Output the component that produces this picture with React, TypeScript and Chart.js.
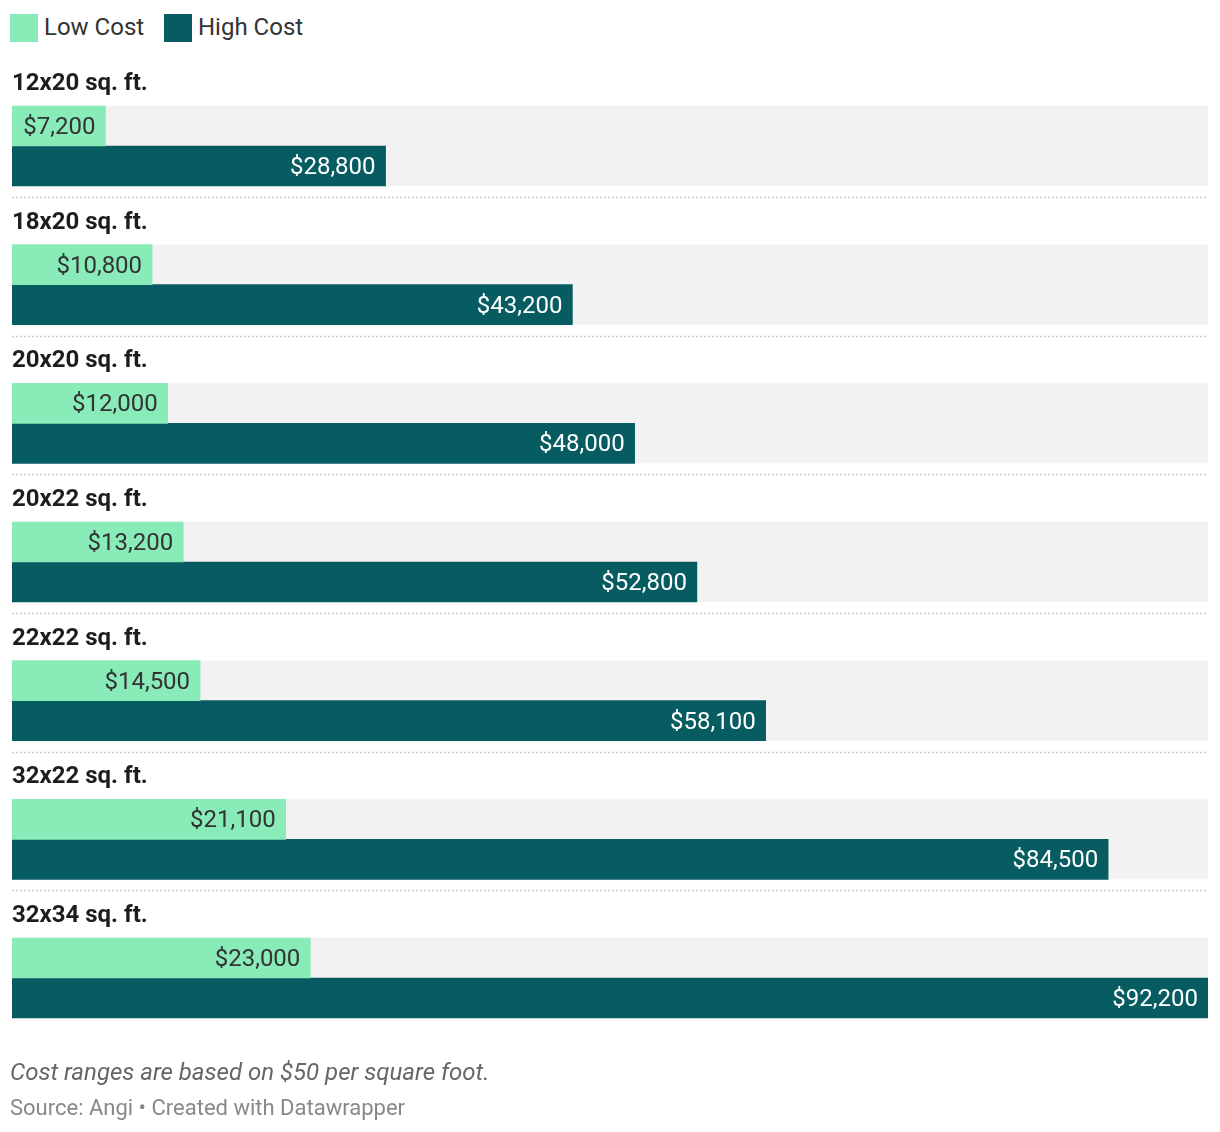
import React, { useEffect, useRef } from "react";
import { Chart, registerables } from "chart.js";

Chart.register(...registerables);

const categories = [
  "12x20 sq. ft.",
  "18x20 sq. ft.",
  "20x20 sq. ft.",
  "20x22 sq. ft.",
  "22x22 sq. ft.",
  "32x22 sq. ft.",
  "32x34 sq. ft.",
];
const lowCost = [7200, 10800, 12000, 13200, 14500, 21100, 23000];
const highCost = [28800, 43200, 48000, 52800, 58100, 84500, 92200];
const seriesNames = ["Low Cost", "High Cost"];
const seriesColors = ["#88ebb8", "#075c62"];
const labelColors = ["#333333", "#ffffff"];
const xMax = 92200;

const FONT = "Roboto, 'Noto Sans', sans-serif";

const fmt = (v: number) => "$" + v.toLocaleString("en-US");

const customPlugin = {
  id: "splitBars",
  beforeDatasetsDraw(chart: any) {
    const { ctx, chartArea } = chart;
    const m0 = chart.getDatasetMeta(0);
    const m1 = chart.getDatasetMeta(1);
    ctx.save();
    categories.forEach((_, i) => {
      const b0 = m0.data[i];
      const b1 = m1.data[i];
      const top = b0.y - b0.height / 2;
      const bottom = b1.y + b1.height / 2;
      ctx.fillStyle = "#f2f2f2";
      ctx.fillRect(chartArea.left, top, chartArea.right - chartArea.left, bottom - top);
    });
    ctx.restore();
  },
  afterDatasetsDraw(chart: any) {
    const { ctx, chartArea } = chart;
    const m0 = chart.getDatasetMeta(0);
    const m1 = chart.getDatasetMeta(1);
    ctx.save();
    categories.forEach((name, i) => {
      const b0 = m0.data[i];
      const b1 = m1.data[i];
      const top = b0.y - b0.height / 2;
      const bottom = b1.y + b1.height / 2;
      // group label
      ctx.fillStyle = "#1d1d1d";
      ctx.font = `bold 24px ${FONT}`;
      ctx.textAlign = "left";
      ctx.textBaseline = "middle";
      ctx.fillText(name, chartArea.left, top - 22);
      // separators
      if (i < categories.length - 1) {
        ctx.strokeStyle = "#cccccc";
        ctx.lineWidth = 1.5;
        ctx.setLineDash([2, 2]);
        ctx.beginPath();
        ctx.moveTo(chartArea.left, Math.round(bottom + 11) + 0.5);
        ctx.lineTo(chartArea.right, Math.round(bottom + 11) + 0.5);
        ctx.stroke();
        ctx.setLineDash([]);
      }
      // value labels
      [b0, b1].forEach((b: any, d: number) => {
        const v = d === 0 ? lowCost[i] : highCost[i];
        ctx.fillStyle = labelColors[d];
        ctx.font = `24px ${FONT}`;
        ctx.textAlign = "right";
        ctx.textBaseline = "middle";
        ctx.fillText(fmt(v), b.x - 10, b.y + 2);
      });
    });
    ctx.restore();
  },
};

export default function App() {
  const ref = useRef<HTMLCanvasElement | null>(null);
  useEffect(() => {
    if (!ref.current) return;
    const chart = new Chart(ref.current, {
      type: "bar",
      data: {
        labels: categories,
        datasets: [
          {
            label: seriesNames[0],
            data: lowCost,
            backgroundColor: seriesColors[0],
            barThickness: 40,
            borderWidth: 0,
          },
          {
            label: seriesNames[1],
            data: highCost,
            backgroundColor: seriesColors[1],
            barThickness: 40,
            borderWidth: 0,
          },
        ],
      },
      options: {
        indexAxis: "y",
        animation: false,
        responsive: false,
        maintainAspectRatio: false,
        layout: { padding: { left: 12, right: 12, top: 76.67, bottom: 12.67 } },
        plugins: { legend: { display: false }, tooltip: { enabled: false } },
        scales: {
          x: { display: false, min: 0, max: xMax },
          y: { display: false, offset: true, grid: { display: false } },
        },
      },
      plugins: [customPlugin],
    });
    return () => chart.destroy();
  }, []);

  const legendText: React.CSSProperties = {
    position: "absolute",
    top: 27,
    transform: "translateY(-50%)",
    fontFamily: FONT,
    fontSize: 24,
    color: "#333333",
    whiteSpace: "nowrap",
    lineHeight: 1,
  };

  return (
    <div
      style={{
        position: "absolute",
        left: 0,
        top: 0,
        width: 1220,
        height: 1132,
        background: "#ffffff",
        overflow: "hidden",
      }}
    >
      <div style={{ position: "absolute", left: 10, top: 14, width: 28, height: 28, background: seriesColors[0] }} />
      <div style={{ ...legendText, left: 44 }}>{seriesNames[0]}</div>
      <div style={{ position: "absolute", left: 164, top: 14, width: 28, height: 28, background: seriesColors[1] }} />
      <div style={{ ...legendText, left: 198 }}>{seriesNames[1]}</div>
      <canvas
        ref={ref}
        width={1220}
        height={1060}
        style={{ position: "absolute", left: 0, top: 0, width: 1220, height: 1060 }}
      />
      <div
        style={{
          position: "absolute",
          left: 10,
          top: 1072,
          transform: "translateY(-50%)",
          fontFamily: FONT,
          fontStyle: "italic",
          fontSize: 24,
          color: "#666666",
          whiteSpace: "nowrap",
          lineHeight: 1,
        }}
      >
        Cost ranges are based on $50 per square foot.
      </div>
      <div
        style={{
          position: "absolute",
          left: 10,
          top: 1108,
          transform: "translateY(-50%)",
          fontFamily: FONT,
          fontSize: 22,
          color: "#888888",
          whiteSpace: "nowrap",
          lineHeight: 1,
        }}
      >
        Source: Angi • Created with Datawrapper
      </div>
    </div>
  );
}
